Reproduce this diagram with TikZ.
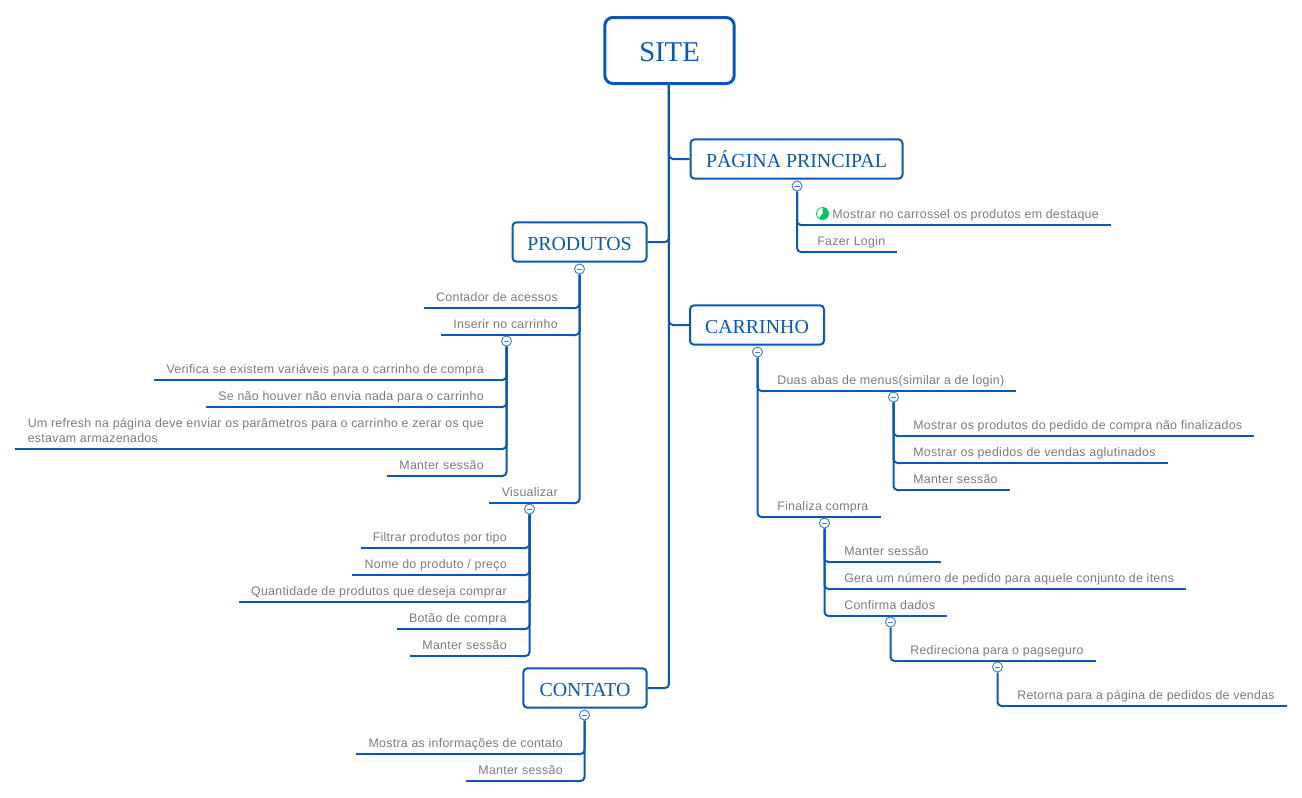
\documentclass[tikz,border=0pt]{standalone}
\usepackage{fontspec}
\setmainfont{Liberation Sans}[LetterSpace=2.2]
\newfontfamily\titlefont{Liberation Serif}
\definecolor{azul}{HTML}{0B57B4}
\definecolor{cinza}{HTML}{7D787E}
\definecolor{verde}{HTML}{00C853}
\begin{document}
\begin{tikzpicture}[x=0.75pt,y=-0.75pt,
    root/.style = {draw=azul, line width=2.25pt, rounded corners=6pt, fill=white, text=azul, font=\titlefont\fontsize{21.5}{24}\selectfont, text height=16pt, text depth=0pt, minimum width=97pt, minimum height=49.5pt},
    main/.style = {draw=azul, line width=1.5pt, rounded corners=3pt, fill=white, text=azul, font=\titlefont\fontsize{14.9}{17}\selectfont, text height=12pt, text depth=0pt, minimum height=29.5pt},
    leaf/.style = {text=cinza, font=\fontsize{9.3}{11}\selectfont, inner xsep=9pt, inner ysep=2pt, text depth=2.75pt, align=left, append after command={(\tikzlastnode.south west) edge[link, rounded corners=0pt] (\tikzlastnode.south east)}},
    leafl/.style = {leaf, anchor=south east},
    leafr/.style = {leaf, anchor=south west},
    link/.style = {draw=azul, line width=1.5pt, rounded corners=3pt},
    toggle/.style = {circle, draw=azul!75, fill=white, line width=0.75pt, inner sep=0pt, minimum size=7.5pt, path picture={\draw[azul!75, line width=0.6pt] ([xshift=-2.2pt]path picture bounding box.center) -- ([xshift=2.2pt]path picture bounding box.center);}}]
    \useasboundingbox (0,0) rectangle (1302,797);
    % central
    \node[root] (site) at (669.5,50.5) {SITE};
    \node[main, minimum width=159pt] (pagina) at (796.5,159) {PÁGINA PRINCIPAL};
    \node[main, minimum width=100.5pt] (produtos) at (579.5,242) {PRODUTOS};
    \node[main, minimum width=100.5pt] (carrinho) at (757,325) {CARRINHO};
    \node[main, minimum width=92.5pt] (contato) at (585,688) {CONTATO};
    \foreach \n/\a in {pagina/west, produtos/east, carrinho/west, contato/east}
        \draw[link] ([xshift=-0.4pt]site.south) |- (\n.\a);
    % pagina principal
    \node[leafr] (pp1) at (805,225) {\hspace{11.25pt}Mostrar no carrossel os produtos em destaque};
    \node[leafr] (pp2) at (805,252) {Fazer Login};
    \node[toggle] (tpagina) at (797,186) {};
    \foreach \n in {pp1,pp2}
        \draw[link] (tpagina) |- (\n.south west);
    \node[circle, fill=verde, inner sep=0pt, minimum size=9.5pt] (icone) at (822.5,213.5) {};
    \fill[white] (icone.center) -- (icone.north) arc (90:235:4.75pt) -- cycle;
    \draw[verde, line width=0.5pt] (icone.center) circle (4.5pt);
    % produtos
    \node[leafl] (pr1) at (570,308) {Contador de acessos};
    \node[leafl] (pr2) at (570,335) {Inserir no carrinho};
    \node[leafl] (pr3) at (570,503) {Visualizar};
    \node[toggle] (tprodutos) at (579.5,269) {};
    \foreach \n in {pr1,pr2,pr3}
        \draw[link] (tprodutos) |- (\n.south east);
    % inserir no carrinho
    \node[leafl] (in1) at (496,380) {Verifica se existem variáveis para o carrinho de compra};
    \node[leafl] (in2) at (496,407) {Se não houver não envia nada para o carrinho};
    \node[leafl] (in3) at (496,449) {Um refresh na página deve enviar os parâmetros para o carrinho e zerar os que\\estavam armazenados};
    \node[leafl] (in4) at (496,476) {Manter sessão};
    \node[toggle] (tinserir) at (506.5,341) {};
    \foreach \n in {in1,in2,in3,in4}
        \draw[link] (tinserir) |- (\n.south east);
    % visualizar
    \node[leafl] (vi1) at (519,548) {Filtrar produtos por tipo};
    \node[leafl] (vi2) at (519,575) {Nome do produto / preço};
    \node[leafl] (vi3) at (519,602) {Quantidade de produtos que deseja comprar};
    \node[leafl] (vi4) at (519,629) {Botão de compra};
    \node[leafl] (vi5) at (519,656) {Manter sessão};
    \node[toggle] (tvisualizar) at (529.5,509) {};
    \foreach \n in {vi1,vi2,vi3,vi4,vi5}
        \draw[link] (tvisualizar) |- (\n.south east);
    % contato
    \node[leafl] (co1) at (575,754) {Mostra as informações de contato};
    \node[leafl] (co2) at (575,781) {Manter sessão};
    \node[toggle] (tcontato) at (584.5,715) {};
    \foreach \n in {co1,co2}
        \draw[link] (tcontato) |- (\n.south east);
    % carrinho
    \node[leafr] (ca1) at (765,391) {Duas abas de menus(similar a de login)};
    \node[leafr] (ca2) at (765,517) {Finaliza compra};
    \node[toggle] (tcarrinho) at (757.5,352) {};
    \foreach \n in {ca1,ca2}
        \draw[link] (tcarrinho) |- (\n.south west);
    % duas abas
    \node[leafr] (du1) at (901,436) {Mostrar os produtos do pedido de compra não finalizados};
    \node[leafr] (du2) at (901,463) {Mostrar os pedidos de vendas aglutinados};
    \node[leafr] (du3) at (901,490) {Manter sessão};
    \node[toggle] (tabas) at (893.5,397) {};
    \foreach \n in {du1,du2,du3}
        \draw[link] (tabas) |- (\n.south west);
    % finaliza compra
    \node[leafr] (fi1) at (832,562) {Manter sessão};
    \node[leafr] (fi2) at (832,589) {Gera um número de pedido para aquele conjunto de itens};
    \node[leafr] (fi3) at (832,616) {Confirma dados};
    \node[toggle] (tfinaliza) at (824.5,523) {};
    \foreach \n in {fi1,fi2,fi3}
        \draw[link] (tfinaliza) |- (\n.south west);
    % confirma dados
    \node[leafr] (cf1) at (898,661) {Redireciona para o pagseguro};
    \node[toggle] (tconfirma) at (890.5,622) {};
    \draw[link] (tconfirma) |- (cf1.south west);
    \node[leafr] (re1) at (1005,706) {Retorna para a página de pedidos de vendas};
    \node[toggle] (tredireciona) at (997.5,667) {};
    \draw[link] (tredireciona) |- (re1.south west);
\end{tikzpicture}
\end{document}
